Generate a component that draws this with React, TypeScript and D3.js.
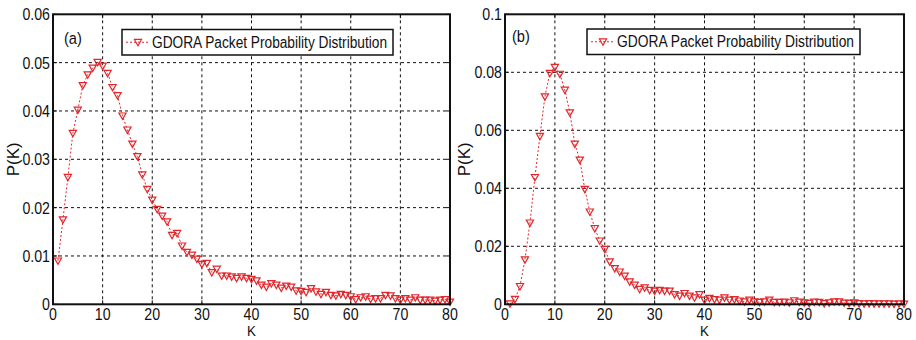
import React from 'react';
import * as d3 from 'd3';

const kValues: number[] = d3.range(1, 81);

const probA: number[] = [
  0.0090, 0.0175, 0.0263, 0.0354, 0.0402, 0.0453, 0.0475, 0.0489, 0.0501, 0.0493,
  0.0478, 0.0449, 0.0432, 0.0390, 0.0361, 0.0332, 0.0306, 0.0268, 0.0238, 0.0216,
  0.0197, 0.0183, 0.0171, 0.0143, 0.0147, 0.0121, 0.0108, 0.0102, 0.0094, 0.0083,
  0.0085, 0.0066, 0.0073, 0.0059, 0.0059, 0.0057, 0.0054, 0.0057, 0.0054, 0.0052,
  0.0049, 0.0040, 0.0036, 0.0043, 0.0040, 0.0034, 0.0038, 0.0036, 0.0028, 0.0027,
  0.0025, 0.0033, 0.0026, 0.0021, 0.0025, 0.0019, 0.0018, 0.0021, 0.0019, 0.0016,
  0.0010, 0.0014, 0.0016, 0.0011, 0.0012, 0.0012, 0.0019, 0.0018, 0.0012, 0.0009,
  0.0012, 0.0009, 0.0014, 0.0009, 0.0009, 0.0009, 0.0007, 0.0009, 0.0010, 0.0005,
];

const probB: number[] = [
  0.0002, 0.0018, 0.0062, 0.0154, 0.0281, 0.0438, 0.0580, 0.0716, 0.0797, 0.0818,
  0.0794, 0.0739, 0.0661, 0.0553, 0.0498, 0.0397, 0.0319, 0.0262, 0.0219, 0.0190,
  0.0147, 0.0124, 0.0112, 0.0098, 0.0078, 0.0067, 0.0052, 0.0057, 0.0049, 0.0046,
  0.0049, 0.0046, 0.0046, 0.0034, 0.0029, 0.0038, 0.0029, 0.0023, 0.0034, 0.0015,
  0.0021, 0.0017, 0.0015, 0.0023, 0.0015, 0.0017, 0.0012, 0.0009, 0.0015, 0.0009,
  0.0007, 0.0009, 0.0015, 0.0007, 0.0007, 0.0008, 0.0006, 0.0013, 0.0008, 0.0006,
  0.0004, 0.0008, 0.0007, 0.0003, 0.0006, 0.0009, 0.0009, 0.0005, 0.0004, 0.0006,
  0.0003, 0.0002, 0.0003, 0.0002, 0.0002, 0.0002, 0.0002, 0.0001, 0.0002, 0.0001,
];

const xTicks: number[] = [0, 10, 20, 30, 40, 50, 60, 70, 80];
const yTicksA: number[] = [0, 0.01, 0.02, 0.03, 0.04, 0.05, 0.06];
const yTickLabelsA: string[] = ['0', '0.01', '0.02', '0.03', '0.04', '0.05', '0.06'];
const yTicksB: number[] = [0, 0.02, 0.04, 0.06, 0.08, 0.1];
const yTickLabelsB: string[] = ['0', '0.02', '0.04', '0.06', '0.08', '0.1'];
const panelTags: string[] = ['(a)', '(b)'];
const legendLabel = 'GDORA Packet Probability Distribution';
const xLabel = 'K';
const yLabel = 'P(K)';

const RED = '#e3262b';
const FONT = 'Liberation Sans, Arial, sans-serif';
const SX = 0.86;

type PanelProps = {
  left: number;
  right: number;
  top: number;
  bottom: number;
  values: number[];
  yMax: number;
  yTicks: number[];
  yTickLabels: string[];
  tag: string;
  tagX: number;
  tagY: number;
  legendX: number;
  legendY: number;
  legendW: number;
  legendH: number;
  ylabelX: number;
};

function Marker({ x, y }: { x: number; y: number }) {
  const p = d3.path();
  p.moveTo(x - 3.6, y - 2.8);
  p.lineTo(x + 3.6, y - 2.8);
  p.lineTo(x, y + 3.6);
  p.closePath();
  return <path d={p.toString()} fill="none" stroke={RED} strokeWidth={1.2} />;
}

function SText({ x, y, anchor, size, children }: { x: number; y: number; anchor: string; size: number; children: React.ReactNode }) {
  return (
    <text
      transform={`translate(${x},${y}) scale(${SX},1)`}
      textAnchor={anchor as any}
      fontSize={size}
      fontFamily={FONT}
      fill="#111"
    >
      {children}
    </text>
  );
}

function Panel(props: PanelProps) {
  const { left, right, top, bottom, values, yMax, yTicks, yTickLabels } = props;
  const x = d3.scaleLinear().domain([0, 80]).range([left, right]);
  const y = d3.scaleLinear().domain([0, yMax]).range([bottom, top]);
  const pts = kValues.map((k, i) => [k, values[i]] as [number, number]);
  const line = d3
    .line<[number, number]>()
    .x((d) => x(d[0]))
    .y((d) => y(d[1]));
  const lx = props.legendX;
  const ly = props.legendY;
  const midY = ly + props.legendH / 2;
  return (
    <g>
      <rect x={left} y={top} width={right - left} height={bottom - top} fill="#fff" />
      {xTicks.slice(1, -1).map((t) => (
        <line key={'gx' + t} x1={x(t)} x2={x(t)} y1={top} y2={bottom} stroke="#111" strokeWidth={1} strokeDasharray="3,3" />
      ))}
      {yTicks.slice(1, -1).map((t) => (
        <line key={'gy' + t} x1={left} x2={right} y1={y(t)} y2={y(t)} stroke="#111" strokeWidth={1} strokeDasharray="3,3" />
      ))}
      {xTicks.map((t) => (
        <g key={'tx' + t}>
          <line x1={x(t)} x2={x(t)} y1={bottom} y2={bottom - 4} stroke="#111" />
          <line x1={x(t)} x2={x(t)} y1={top} y2={top + 4} stroke="#111" />
          <SText x={x(t)} y={bottom + 16} anchor="middle" size={16.5}>{String(t)}</SText>
        </g>
      ))}
      {yTicks.map((t, i) => (
        <g key={'ty' + t}>
          <line x1={left} x2={left + 4} y1={y(t)} y2={y(t)} stroke="#111" />
          <line x1={right} x2={right - 4} y1={y(t)} y2={y(t)} stroke="#111" />
          <SText x={left - 3} y={y(t) + 6} anchor="end" size={16.5}>{yTickLabels[i]}</SText>
        </g>
      ))}
      <path d={line(pts) || ''} fill="none" stroke={RED} strokeWidth={1} strokeDasharray="2,2" />
      {pts.map((d, i) => (
        <Marker key={'m' + i} x={x(d[0])} y={y(d[1])} />
      ))}
      <rect x={left} y={top} width={right - left} height={bottom - top} fill="none" stroke="#111" strokeWidth={2} />
      <SText x={props.tagX} y={props.tagY} anchor="start" size={17}>{props.tag}</SText>
      <rect x={lx} y={ly} width={props.legendW} height={props.legendH} fill="#fff" stroke="#111" strokeWidth={1.5} />
      <line x1={lx + 4} x2={lx + 28} y1={midY} y2={midY} stroke={RED} strokeWidth={1} strokeDasharray="2,2" />
      <Marker x={lx + 16} y={midY} />
      <text
        x={lx + 30}
        y={midY + 5.5}
        fontSize={16}
        fontFamily={FONT}
        fill="#111"
        textLength={props.legendW - 36}
        lengthAdjust="spacingAndGlyphs"
      >
        {legendLabel}
      </text>
      <text
        transform={`translate(${props.ylabelX},${(top + bottom) / 2}) rotate(-90)`}
        textAnchor="middle"
        fontSize={17}
        fontFamily={FONT}
        fill="#111"
      >
        {yLabel}
      </text>
      <SText x={(left + right) / 2} y={bottom + 31.5} anchor="middle" size={15.5}>{xLabel}</SText>
    </g>
  );
}

export default function App() {
  return (
    <svg
      width={916}
      height={340}
      style={{ position: 'absolute', left: 0, top: 0, background: '#fff' }}
    >
      <rect x={0} y={0} width={916} height={340} fill="#fff" />
      <Panel
        left={53}
        right={450}
        top={14.3}
        bottom={304.3}
        values={probA}
        yMax={0.06}
        yTicks={yTicksA}
        yTickLabels={yTickLabelsA}
        tag={panelTags[0]}
        tagX={64}
        tagY={44}
        legendX={122}
        legendY={29.5}
        legendW={271}
        legendH={25.5}
        ylabelX={19}
      />
      <Panel
        left={505}
        right={904}
        top={14.3}
        bottom={304.3}
        values={probB}
        yMax={0.1}
        yTicks={yTicksB}
        yTickLabels={yTickLabelsB}
        tag={panelTags[1]}
        tagX={512}
        tagY={42}
        legendX={587}
        legendY={29}
        legendW={273}
        legendH={25.5}
        ylabelX={470}
      />
    </svg>
  );
}
